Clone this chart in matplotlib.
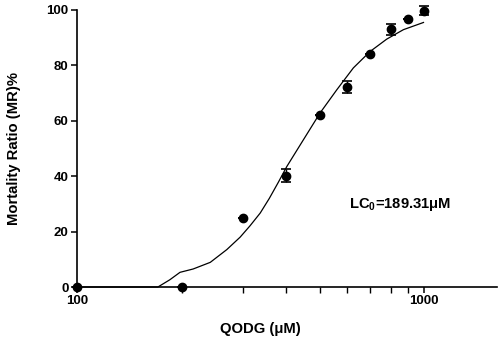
import matplotlib
matplotlib.use("Agg")
import matplotlib.pyplot as plt
from matplotlib.ticker import FixedLocator, NullFormatter

plt.rcParams['font.family'] = ['Liberation Sans', 'DejaVu Sans']
plt.rcParams['mathtext.fontset'] = 'custom'
plt.rcParams['mathtext.rm'] = 'Liberation Sans:bold'
plt.rcParams['mathtext.bf'] = 'Liberation Sans:bold'

# Observed data
conc = [100, 200, 300, 400, 500, 600, 700, 800, 900, 1000]
mortality = [0, 0, 25, 40.2, 62.2, 72.2, 84.1, 93.1, 96.9, 99.8]
mortality_err = [0, 0, 0, 2.4, 0, 2.0, 0, 2.0, 0, 1.6]

# Fitted curve
curve_x = [100, 171, 185, 198, 216, 242, 270, 295, 315, 337, 358, 380, 402,
           449, 501, 560, 625, 698, 780, 871, 995]
curve_y = [0, 0, 2.6, 5.3, 6.5, 8.9, 13.5, 18.0, 22.1, 26.7, 32.0, 37.8, 43.5,
           53.2, 62.8, 71.2, 79.1, 85.0, 89.5, 92.9, 95.5]

y_ticks = [0, 20, 40, 60, 80, 100]
x_major = [100, 1000]
x_minor = [200, 300, 400, 500, 600, 700, 800, 900]

fig = plt.figure(figsize=(4.98, 3.42), dpi=100)
ax = fig.add_axes([77/498, 55/342, 420/498, 277/342])

ax.plot(curve_x, curve_y, color='black', lw=0.9, clip_on=False, zorder=2)
ax.errorbar(conc, mortality, yerr=mortality_err, fmt='o', color='black',
            markersize=6.0, capsize=3.5, elinewidth=1.0, capthick=1.2,
            clip_on=False, zorder=3)

ax.set_xscale('log')
ax.set_xlim(100, 1620)
ax.set_ylim(0, 100)

ax.xaxis.set_major_locator(FixedLocator(x_major))
ax.xaxis.set_minor_locator(FixedLocator(x_minor))
ax.xaxis.set_minor_formatter(NullFormatter())
ax.set_xticklabels([str(v) for v in x_major])
ax.set_yticks(y_ticks)

for s in ['top', 'right']:
    ax.spines[s].set_visible(False)
for s in ['left', 'bottom']:
    ax.spines[s].set_linewidth(1.2)

ax.tick_params(axis='both', which='major', length=4, width=1.1, labelsize=9.5, pad=2)
ax.tick_params(axis='x', which='minor', length=4, width=1.0)
for lab in ax.get_xticklabels() + ax.get_yticklabels():
    lab.set_fontweight('bold')

ax.set_xlabel('QODG (μM)', fontsize=10.7, fontweight='bold')
ax.xaxis.set_label_coords((260 - 77) / 420, -0.125)
ax.set_ylabel('Mortality Ratio (MR)%', fontsize=10.7, fontweight='bold')
ax.yaxis.set_label_coords(-(77 - 21) / 420, 0.5)

ax.text(853, 29.7, r'LC$_\mathbf{0}$=189.31μM', fontsize=10.6, fontweight='bold',
        ha='center', va='center')

fig.savefig('out.png', dpi=100)
